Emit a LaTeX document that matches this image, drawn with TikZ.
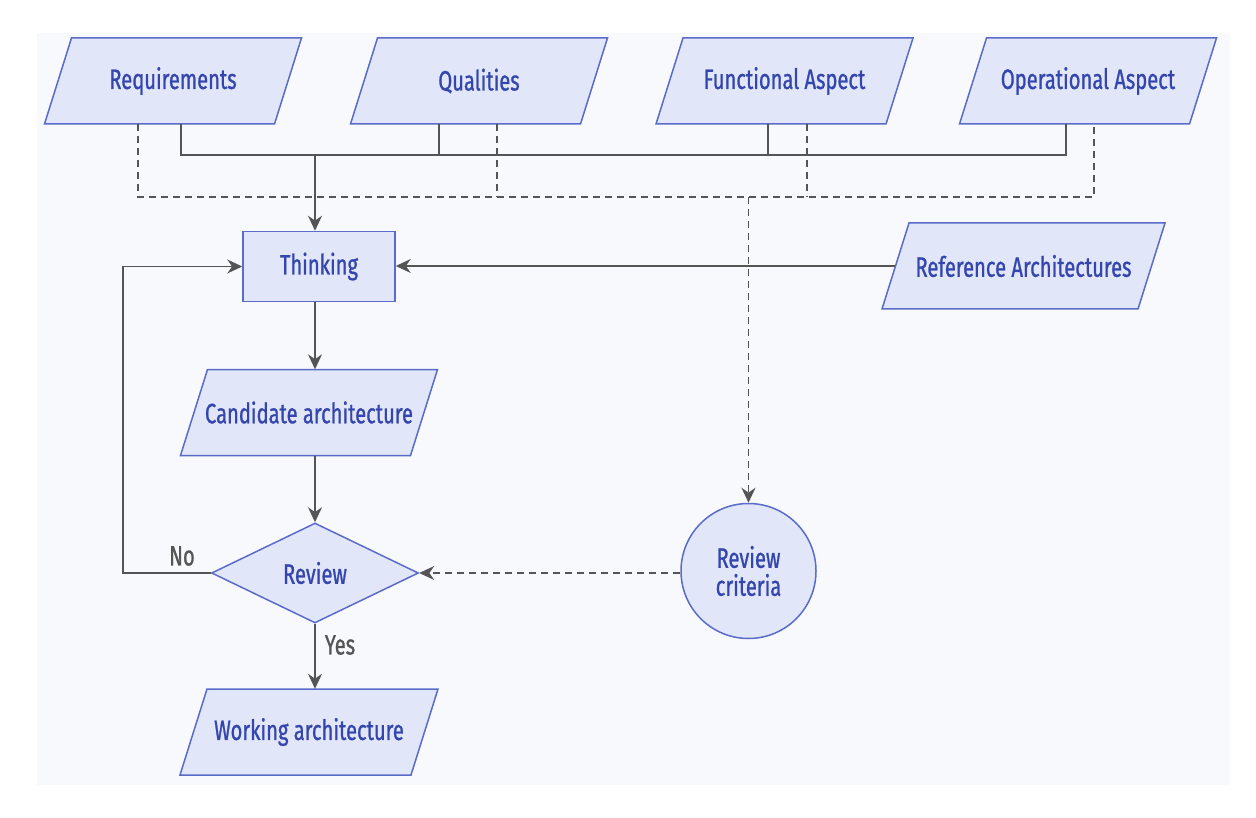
\documentclass[tikz,border=0pt]{standalone}
\usepackage{fontspec}
\setmainfont{Fira Sans}[FakeStretch=0.72, FakeBold=0.9]
\usetikzlibrary{shapes.geometric,arrows.meta,calc}
\definecolor{bfill}{HTML}{E1E6F8}
\definecolor{bline}{HTML}{5A6BC9}
\definecolor{btext}{HTML}{3446AE}
\definecolor{conn}{HTML}{555555}
\definecolor{panel}{HTML}{F8F9FD}
% name, cx, cy, half total width, text
\newcommand\paranode[5]{%
  \draw[pbox] (#2-#4,#3+43) -- (#2+#4-27,#3+43) -- (#2+#4,#3-43) -- (#2-#4+27,#3-43) -- cycle;
  \node[ptext, minimum width=2*#4pt-27pt] (#1) at (#2,#3) {#5};}
\begin{document}
\begin{tikzpicture}[x=1pt,y=-1pt,
  pbox/.style={draw=bline, fill=bfill, line width=1.5pt},
  txtfont/.style={font=\fontsize{28}{32}\selectfont},
  ptext/.style={txtfont, text=btext, minimum height=86pt, inner sep=0pt},
  rbox/.style={pbox, txtfont, text=btext, minimum width=152pt, minimum height=70pt, inner sep=0pt},
  dbox/.style={pbox, txtfont, text=btext, diamond, minimum width=207pt, minimum height=100pt, inner sep=0pt},
  cbox/.style={pbox, txtfont, text=btext, circle, minimum size=135pt, inner sep=0pt, align=center},
  lbl/.style={txtfont, text=conn, inner sep=0pt},
  line/.style={draw=conn, line width=1.4pt},
  dashline/.style={line, dash pattern=on 7pt off 5pt},
  arr/.style={-{Stealth[length=15pt,width=14pt]}}]
\useasboundingbox (0,0) rectangle (1256,818);
\fill[white] (0,0) rectangle (1256,818);
\fill[panel] (37,33) rectangle (1230,785);

\paranode{req}{173}{81}{128.5}{Requirements}
\paranode{qual}{479}{81}{128.5}{Qualities}
\paranode{func}{784.5}{81}{128.5}{Functional Aspect}
\paranode{oper}{1088}{81}{128.5}{Operational Aspect}
\paranode{refa}{1023.5}{266}{141.5}{Reference Architectures}
\paranode{cand}{309}{412.5}{128.5}{Candidate architecture}
\paranode{work}{309}{732}{129}{Working architecture}
\node[rbox] (think) at (319,266.5) {Thinking};
\node[dbox] (rev) at (315,573) {Review};
\node[cbox] (crit) at (748.5,571) {Review\\[-4pt]criteria};

\coordinate (busL) at (181,155);
\coordinate (busR) at (1066,155);
\coordinate (q1) at (439,155);
\coordinate (f1) at (768,155);
\coordinate (dbusL) at (138,197);
\coordinate (dbusR) at (1094,197);
\coordinate (q2) at (497,197);
\coordinate (f2) at (807,197);
\coordinate (down) at (315,155);
\coordinate (ddown) at (748.5,197);
\coordinate (loop) at (123,573);

\draw[line] (busL |- req.south) -- (busL) -- (busR) -- (busR |- oper.south);
\draw[line] (q1 |- qual.south) -- (q1);
\draw[line] (f1 |- func.south) -- (f1);
\draw[dashline] (dbusL |- req.south) -- (dbusL) -- (dbusR) -- (dbusR |- oper.south);
\draw[dashline] (q2 |- qual.south) -- (q2);
\draw[dashline] (f2 |- func.south) -- (f2);

\draw[line,arr] (down) -- (down |- think.north);
\draw[dashline,arr] (ddown) -- (crit.north);
\draw[line,arr] (refa.west) -- (refa.west -| think.east);
\draw[line,arr] (think.south -| down) -- (cand.north -| down);
\draw[line,arr] (cand.south -| down) -- (rev.north);
\draw[dashline,arr] (crit.west |- rev.east) -- (rev.east);
\draw[line,arr] (rev.west) -- (loop) |- (think.west);
\draw[line,arr] (rev.south) -- (work.north -| down);
\node[lbl] (no) at (182,556) {No};
\node[lbl] (yes) at (340,645) {Yes};
\end{tikzpicture}
\end{document}
